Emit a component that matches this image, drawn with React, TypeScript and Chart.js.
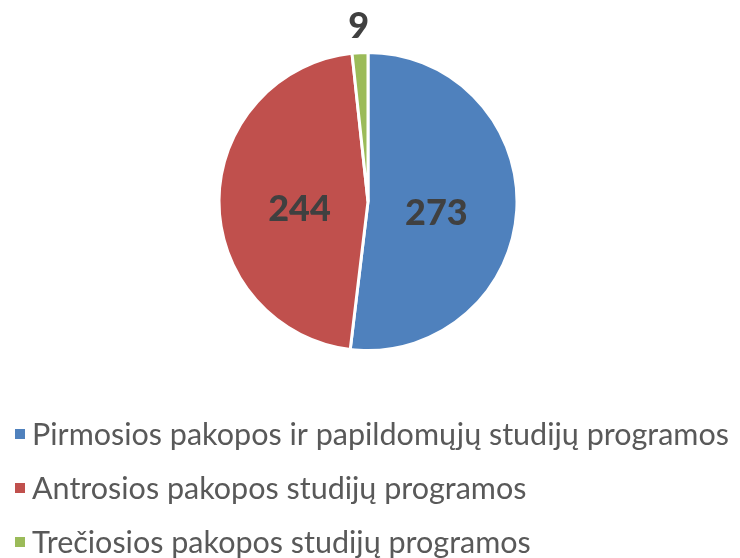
import React, { useEffect, useRef } from "react";
import { Chart, registerables } from "chart.js";

Chart.register(...registerables);

const categories: string[] = [
  "Pirmosios pakopos ir papildomųjų studijų programos",
  "Antrosios pakopos studijų programos",
  "Trečiosios pakopos studijų programos",
];
const values: number[] = [273, 244, 9];
const colors: string[] = ["#4F81BD", "#C0504D", "#9BBB59"];

const labelPlugin = {
  id: "sliceLabels",
  afterDatasetsDraw(chart: any) {
    const ctx = chart.ctx;
    const meta = chart.getDatasetMeta(0);
    const total = values.reduce((a, b) => a + b, 0);
    ctx.save();
    ctx.font = "900 36px Lato";
    ctx.fillStyle = "#404040";
    ctx.textAlign = "center";
    ctx.textBaseline = "middle";
    meta.data.forEach((arc: any, i: number) => {
      const p = arc.getProps(["x", "y", "startAngle", "endAngle", "outerRadius"], true);
      const mid = (p.startAngle + p.endAngle) / 2;
      const frac = values[i] / total;
      let r: number;
      let dy = 0;
      if (frac < 0.05) {
        r = p.outerRadius + 26;
      } else {
        r = p.outerRadius * 0.46;
        dy = 8;
      }
      const x = p.x + Math.cos(mid) * r;
      const y = p.y + Math.sin(mid) * r + dy;
      ctx.fillText(String(values[i]), x, y);
    });
    ctx.restore();
  },
  afterDraw(chart: any) {
    const ctx = chart.ctx;
    const ds = chart.data.datasets[0];
    ctx.save();
    ctx.font = "30.5px Lato";
    ctx.textAlign = "left";
    ctx.textBaseline = "middle";
    const startY = 434;
    const step = 54;
    (chart.data.labels as string[]).forEach((lbl, i) => {
      const y = startY + i * step;
      ctx.fillStyle = ds.backgroundColor[i];
      ctx.fillRect(15, y - 5, 10, 10);
      ctx.fillStyle = "#595959";
      ctx.fillText(lbl, 32, y + 1);
    });
    ctx.restore();
  },
};

export default function App() {
  const ref = useRef<HTMLCanvasElement | null>(null);
  useEffect(() => {
    if (!ref.current) return;
    const chart = new Chart(ref.current, {
      type: "pie",
      data: {
        labels: categories,
        datasets: [
          {
            data: values,
            backgroundColor: colors,
            borderColor: "#FFFFFF",
            borderWidth: 3,
          },
        ],
      },
      options: {
        responsive: false,
        animation: false,
        layout: { padding: { top: 51, bottom: 206, left: 0, right: 4 } },
        plugins: {
          legend: { display: false },
          tooltip: { enabled: false },
        },
      },
      plugins: [labelPlugin],
    });
    return () => chart.destroy();
  }, []);
  return (
    <div style={{ position: "absolute", left: 0, top: 0, width: 740, height: 558, background: "#fff" }}>
      <canvas ref={ref} width={740} height={558} />
    </div>
  );
}
